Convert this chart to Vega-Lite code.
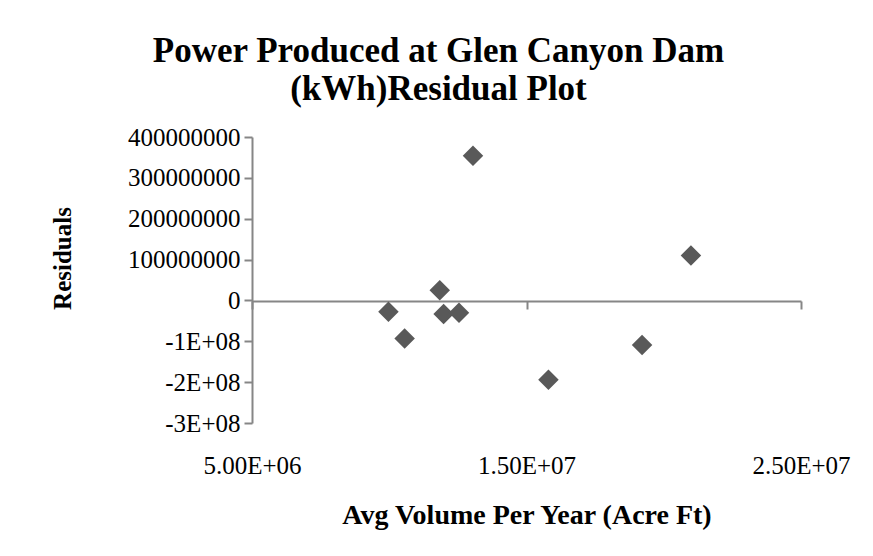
{
  "$schema": "https://vega.github.io/schema/vega-lite/v6.json",
  "autosize": "none",
  "padding": {"left": 252, "top": 137, "right": 72, "bottom": 133},
  "width": 549,
  "height": 286,
  "background": "white",
  "title": {
    "text": ["Power Produced at Glen Canyon Dam", "(kWh)Residual Plot"],
    "font": "Liberation Serif",
    "fontSize": 35,
    "fontWeight": "bold",
    "color": "black",
    "anchor": "middle",
    "frame": "group",
    "baseline": "bottom",
    "lineHeight": 38,
    "offset": -17,
    "dx": -88
  },
  "data": {
    "values": [
      {"volume": 13050000, "residual": 354000000},
      {"volume": 20990000, "residual": 110000000},
      {"volume": 11840000, "residual": 25000000},
      {"volume": 9970000, "residual": -28000000},
      {"volume": 11980000, "residual": -33000000},
      {"volume": 12540000, "residual": -30000000},
      {"volume": 10560000, "residual": -93000000},
      {"volume": 15800000, "residual": -194000000},
      {"volume": 19210000, "residual": -109000000}
    ]
  },
  "mark": {"type": "point", "shape": "diamond", "filled": true, "size": 420, "color": "#595959", "opacity": 1},
  "encoding": {
    "x": {
      "field": "volume",
      "type": "quantitative",
      "scale": {"domain": [5000000, 25000000], "nice": false, "zero": false},
      "axis": {
        "title": "Avg Volume Per Year (Acre Ft)",
        "values": [5000000, 15000000, 25000000],
        "labelExpr": "datum.value == 5000000 ? '5.00E+06' : datum.value == 15000000 ? '1.50E+07' : '2.50E+07'",
        "offset": -122,
        "grid": false,
        "domainColor": "#868686",
        "domainWidth": 2,
        "tickColor": "#868686",
        "tickWidth": 2,
        "tickSize": 8,
        "labelFont": "Liberation Serif",
        "labelFontSize": 25,
        "labelColor": "black",
        "labelBaseline": "alphabetic",
        "labelPadding": 164,
        "labelFlush": false,
        "titleFont": "Liberation Serif",
        "titleFontSize": 28,
        "titleFontWeight": "bold",
        "titleColor": "black",
        "titleBaseline": "alphabetic",
        "titleY": 222
      }
    },
    "y": {
      "field": "residual",
      "type": "quantitative",
      "scale": {"domain": [-300000000, 400000000], "nice": false},
      "axis": {
        "title": "Residuals",
        "values": [-300000000, -200000000, -100000000, 0, 100000000, 200000000, 300000000, 400000000],
        "labelExpr": "datum.value < 0 ? '-' + (-datum.value / 100000000) + 'E+08' : '' + datum.value",
        "grid": false,
        "domainColor": "#868686",
        "domainWidth": 2,
        "tickColor": "#868686",
        "tickWidth": 2,
        "tickSize": 8,
        "labelFont": "Liberation Serif",
        "labelFontSize": 25,
        "labelColor": "black",
        "labelPadding": 4,
        "labelFlush": false,
        "labelOverlap": false,
        "titleFont": "Liberation Serif",
        "titleFontSize": 25,
        "titleFontWeight": "bold",
        "titleColor": "black",
        "titleBaseline": "middle",
        "titleX": -190,
        "titleY": 121
      }
    }
  },
  "config": {"view": {"stroke": null}}
}
